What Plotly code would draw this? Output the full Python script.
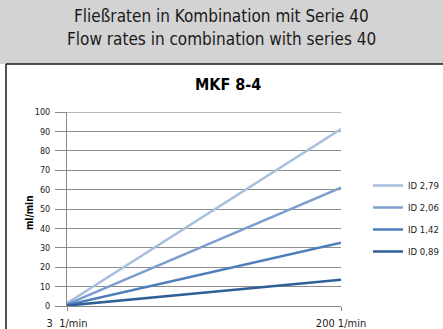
import plotly.graph_objects as go

# Flow rates of the MKF 8-4 pump head for four tube inner diameters
speeds = [3, 200]                      # pump speed, 1/min
series_names = ["ID 2,79", "ID 2,06", "ID 1,42", "ID 0,89"]
flow_279 = [1.4, 91.2]                 # ml/min
flow_206 = [0.9, 61.0]
flow_142 = [0.5, 32.6]
flow_089 = [0.2, 13.6]
series_values = [flow_279, flow_206, flow_142, flow_089]
series_colors = ["#a7bedc", "#7b9ecf", "#4f7ebd", "#325e96"]

x_tick_vals = [3, 200]
x_tick_text = ["3  1/min", "200 1/min"]
y_tick_vals = list(range(0, 101, 10))

FONT = "DejaVu Sans Condensed, Liberation Sans Narrow, sans-serif"

W, H = 443, 329
L, R, T, B = 67, 102, 112, 23
PW, PH = W - L - R, H - T - B


def fx(px):
    """pixel column -> paper x"""
    return (px - L) / PW


def fy(py):
    """pixel row -> paper y"""
    return (H - B - py) / PH


fig = go.Figure()
for name, vals, col in zip(series_names, series_values, series_colors):
    fig.add_trace(go.Scatter(
        x=speeds, y=vals, name=name, mode="lines",
        line=dict(color=col, width=2.5),
        legendgroup=name,
    ))

shapes = [
    # grey header band
    dict(type="rect", xref="paper", yref="paper", layer="below",
         x0=fx(0), x1=fx(W), y0=fy(64), y1=fy(0),
         fillcolor="#d3d3d3", line=dict(width=0)),
    # panel border (top and left)
    dict(type="line", xref="paper", yref="paper",
         x0=fx(6), x1=fx(W), y0=fy(64), y1=fy(64),
         line=dict(color="#1a1a1a", width=1.5)),
    dict(type="line", xref="paper", yref="paper",
         x0=fx(6), x1=fx(6), y0=fy(64), y1=fy(H),
         line=dict(color="#1a1a1a", width=1.5)),
    # top boundary of the plot at 100
    dict(type="line", xref="paper", yref="y", layer="below",
         x0=0, x1=1, y0=100, y1=100,
         line=dict(color="#b8b8b8", width=2)),
]

annotations = [
    dict(text="Fließraten in Kombination mit Serie 40", xref="paper", yref="paper",
         x=fx(221), y=fy(16), showarrow=False,
         font=dict(family=FONT, size=17, color="#1a1a1a"),
         xanchor="center", yanchor="middle"),
    dict(text="Flow rates in combination with series 40", xref="paper", yref="paper",
         x=fx(221), y=fy(39), showarrow=False,
         font=dict(family=FONT, size=17, color="#1a1a1a"),
         xanchor="center", yanchor="middle"),
    dict(text="<b>MKF 8-4</b>", xref="paper", yref="paper",
         x=fx(228), y=fy(84), showarrow=False,
         font=dict(family=FONT, size=16, color="#000000"),
         xanchor="center", yanchor="middle"),
    dict(text="<b>ml/min</b>", xref="paper", yref="paper",
         x=fx(29), y=fy(213), showarrow=False, textangle=-90,
         font=dict(family=FONT, size=10, color="#000000"),
         xanchor="center", yanchor="middle"),
]

fig.update_layout(
    width=W, height=H,
    margin=dict(l=L, r=R, t=T, b=B, pad=0, autoexpand=False),
    paper_bgcolor="white", plot_bgcolor="white",
    font=dict(family=FONT, size=10, color="#222222"),
    shapes=shapes, annotations=annotations,
    showlegend=True,
    legend=dict(xref="container", yref="container",
                x=368 / W, y=1 - 171 / H, xanchor="left", yanchor="top",
                bgcolor="rgba(0,0,0,0)", borderwidth=0,
                traceorder="grouped", tracegroupgap=3,
                font=dict(family=FONT, size=9.5, color="#222222")),
    xaxis=dict(range=[3, 200], tickmode="array", tickvals=x_tick_vals, ticktext=x_tick_text,
               automargin=False,
               showgrid=False, zeroline=False, showline=True, linecolor="#8a8a8a", linewidth=1,
               ticks="outside", ticklen=4, tickcolor="#8a8a8a", ticklabelstandoff=3,
               tickfont=dict(family=FONT, size=11, color="#222222")),
    yaxis=dict(range=[0, 100], tickmode="array", tickvals=y_tick_vals,
               automargin=False,
               showgrid=True, gridcolor="#8c8c8c", gridwidth=1, zeroline=False,
               showline=True, linecolor="#8a8a8a", linewidth=1,
               ticks="outside", ticklen=11, tickcolor="#8a8a8a", ticklabelstandoff=3,
               tickfont=dict(family=FONT, size=9, color="#222222")),
)

fig.write_html("out.html")
